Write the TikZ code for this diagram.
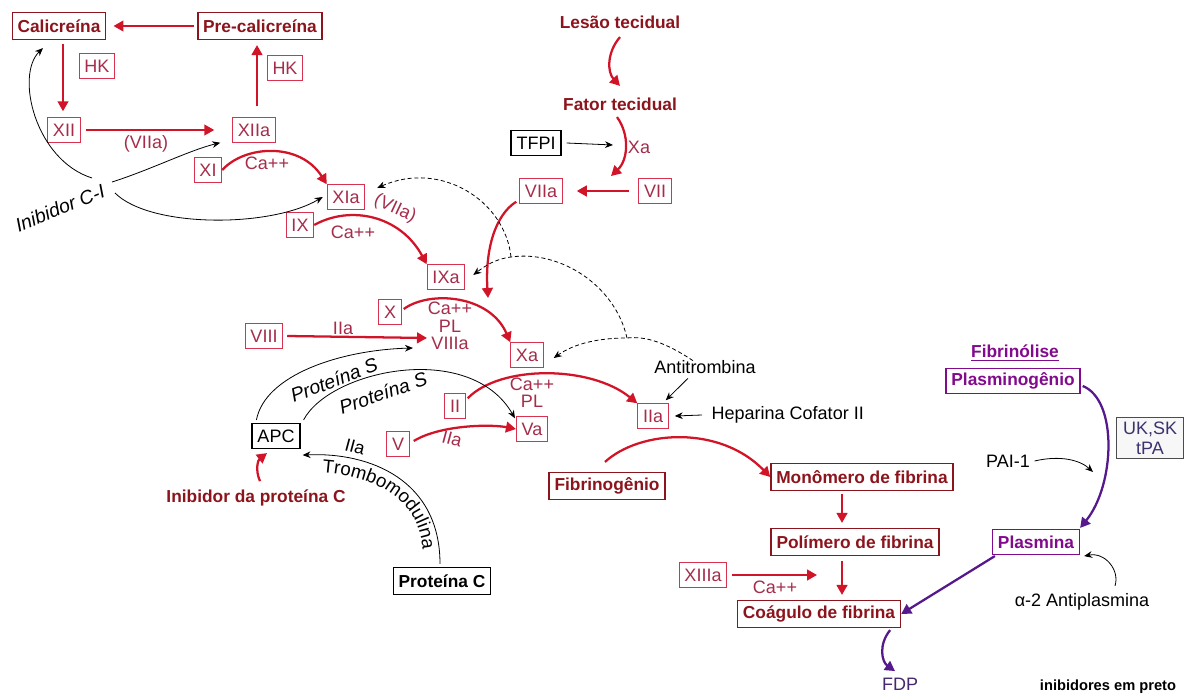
\documentclass[tikz,border=0pt]{standalone}
\usepackage{fontspec}
\setmainfont{Liberation Sans}
\usetikzlibrary{arrows.meta,calc,decorations.text}
\definecolor{clotred}{RGB}{140,20,28}
\definecolor{arrred}{RGB}{210,20,40}
\definecolor{facred}{RGB}{165,45,75}
\definecolor{facline}{RGB}{215,50,80}
\definecolor{lysis}{RGB}{130,10,140}
\definecolor{lysarr}{RGB}{85,25,140}
\definecolor{tpablue}{RGB}{60,50,110}
\definecolor{fdpc}{RGB}{70,40,110}
\newcommand\trfont{\fontsize{14}{16}\selectfont}

\begin{document}
\begin{tikzpicture}[x=0.75pt, y=-0.75pt,
    fac/.style={draw=facline, semithick, fill=white, text=facred,
      font=\fontsize{13.5}{15}\selectfont, inner xsep=4pt, inner ysep=2pt, minimum height=18.5pt},
    bigbox/.style={draw=clotred, line width=1.1pt, fill=white, text=clotred,
      font=\bfseries\fontsize{13}{15}\selectfont, inner xsep=4pt, minimum height=20pt},
    blkbox/.style={draw, line width=1.1pt, fill=white,
      font=\fontsize{13.5}{15}\selectfont, inner xsep=4pt, minimum height=18.5pt},
    redtxt/.style={text=facred, font=\fontsize{13.5}{13}\selectfont, align=center},
    blktxt/.style={font=\fontsize{13.5}{15}\selectfont},
    itxt/.style={font=\itshape\fontsize{14.5}{16}\selectfont},
    titletxt/.style={text=clotred, font=\bfseries\fontsize{13}{15}\selectfont},
    redarr/.style={draw=arrred, line width=1.7pt, -{Triangle[length=7.5pt,width=8pt]}},
    inharr/.style={semithick, -{Stealth[length=6pt,width=5pt]}},
    dasharr/.style={semithick, dash pattern=on 3pt off 2pt, -{Stealth[length=6pt,width=5pt]}},
    lysarrow/.style={draw=lysarr, line width=1.7pt, -{Triangle[length=7.5pt,width=8pt]}}]
  \path[use as bounding box, fill=white] (0,0) rectangle (1192,695);

  % Main boxes
  \foreach \n/\x/\y/\t in {cal/59/26/Calicreína, precal/260/26/Pre-calicreína,
      fibrinog/607/486/Fibrinogênio, monom/862/477/Monômero de fibrina,
      polim/855/542/Polímero de fibrina, coag/819/614/Coágulo de fibrina}
    \node[bigbox] (\n) at (\x,\y) {\t};

  % Factor boxes
  \foreach \n/\x/\y/\t in {fhka/97/66/HK, fhkb/285/68/HK, fxii/64/130/XII, fxiia/254/130/XIIa,
      fxi/208/170/XI, fxia/346/197/XIa, fix/300/225/IX, fixa/446/277/IXa,
      fx/390/312/X, fxa/527/355/Xa, fviii/264/336/VIII, fii/455/406/II,
      fiia/653/416/IIa, fv/398/444/V, fva/532/429/Va, fviia/541/191/VIIa,
      fvii/655/191/VII, fxiiia/703/575/XIIIa}
    \node[fac] (\n) at (\x,\y) {\t};

  \node[blkbox] (tfpi) at (536,143) {TFPI};
  \node[blkbox] (apc) at (276,436) {APC};
  \node[blkbox, font=\bfseries\fontsize{13}{15}\selectfont, minimum height=20pt] (protc) at (442,581) {Proteína C};
  \node[titletxt] (lesao) at (620,22) {Lesão tecidual};
  \node[titletxt] (fator) at (620,104) {Fator tecidual};
  \node[titletxt] (inibpc) at (256,498) {Inibidor da proteína C};

  % Fibrinolysis
  \node[titletxt, text=lysis] (fibrinolise) at (1015,353) {\underline{Fibrinólise}};
  \node[bigbox, draw=lysis, text=lysis, minimum height=18.5pt] (plasminog) at (1013,381) {Plasminogênio};
  \node[bigbox, draw=lysis, text=lysis, minimum height=18.5pt] (plasmina) at (1036,542) {Plasmina};
  \node[draw=gray!60!black, semithick, fill=gray!6, text=tpablue, align=center,
        font=\fontsize{13.5}{15}\selectfont, inner xsep=5pt, inner ysep=3pt] (uksk) at (1150,438) {UK,SK\\tPA};
  \node[blktxt] (pai) at (1008,461) {PAI-1};
  \node[blktxt] (antipl) at (1082,602) {α-2 Antiplasmina};
  \node[text=fdpc, font=\fontsize{13.5}{15}\selectfont] (fdp) at (900,684) {FDP};
  \node[font=\bfseries\fontsize{11}{13}\selectfont] (legenda) at (1108,687) {inibidores em preto};

  % Inhibitor labels
  \node[blktxt] (antitromb) at (705,367) {Antitrombina};
  \node[blktxt, anchor=west] (heparina) at (707,415) {Heparina Cofator II};
  \node[itxt, rotate=22] (inibci) at (60,208) {Inibidor C-I};
  \node[itxt, rotate=21] (prots1) at (334,380) {Proteína S};
  \node[itxt, rotate=19] (prots2) at (383,393) {Proteína S};
  \node[blktxt, rotate=-15] (iiaapc) at (355,447) {IIa};

  % Cofactor labels
  \node[redtxt] (lviia) at (146,144) {(VIIa)};
  \node[redtxt] (lca1) at (267,163) {Ca++};
  \node[redtxt, rotate=-25] (lviib) at (395,209) {(VIIa)};
  \node[redtxt] (lca2) at (353,232) {Ca++};
  \node[redtxt] (lca3) at (450,326) {Ca++\\PL\\VIIIa};
  \node[redtxt] (liia1) at (343,328) {IIa};
  \node[redtxt] (lca4) at (532,393) {Ca++\\PL};
  \node[redtxt, rotate=-15] (liia2) at (452,439) {IIa};
  \node[redtxt] (lxa) at (639,147) {Xa};
  \node[redtxt] (lca5) at (775,587) {Ca++};

  % Free ends
  \coordinate (ci1) at (92,178);
  \coordinate (ci2) at (112,182);
  \coordinate (ci3) at (115,193);
  \coordinate (tfpiend) at (613,145);
  \coordinate (fatorend) at (611,176);
  \coordinate (viiaend) at (488,298);
  \coordinate (viiiend) at (427,338);
  \coordinate (xiiiaend) at (817,575);
  \coordinate (paiend) at (1093,472);
  \coordinate (ps1end) at (413,348);
  \coordinate (jat) at (627,338);
  \coordinate (jix) at (511,257);

  % Contact loop
  \draw[redarr] ($(precal.west)+(-3,0)$) -- ($(cal.east)+(7,0)$);
  \draw[redarr] ($(cal.south)+(4,4)$) -- ($(fxii.north)+(-1,-6)$);
  \draw[redarr] ($(fxii.east)+(5,0)$) -- ($(fxiia.west)+(-18,0)$);
  \draw[redarr] ($(fxiia.north)+(3,-11)$) -- ($(precal.south)+(-3,5)$);

  % Cascade
  \draw[redarr] (fxi.east) .. controls (245,145) and (300,142) .. (fxia.north west);
  \draw[redarr] (fix.east) .. controls (350,205) and (400,215) .. (fixa.north west);
  \draw[redarr] ($(fx.east)+(2,-3)$) .. controls (430,290) and (490,295) .. (fxa.north west);
  \draw[redarr] ($(fii.north east)+(2,5)$) .. controls (500,365) and (590,365) .. (fiia.north west);
  \draw[redarr] ($(fv.east)+(4,-3)$) .. controls (440,425) and (490,424) .. (fva.west);
  \draw[redarr] ($(fviii.east)+(4,0)$) -- (viiiend);
  \draw[redarr] ($(fvii.west)+(-9,0)$) -- ($(fviia.east)+(14,0)$);
  \draw[redarr] ($(fviia.south west)+(-3,-2)$) .. controls (495,215) and (485,250) .. (viiaend);
  \draw[redarr] ($(lesao.south)+(0,4)$) .. controls (607,52) and (607,72) .. ($(fator.north)+(0,-7)$);
  \draw[redarr] ($(fator.south)+(-3,2)$) .. controls (630,135) and (628,160) .. (fatorend);

  % Fibrin
  \draw[redarr] ($(fibrinog.north)+(-2,-10)$) .. controls (640,430) and (720,425) .. (monom.west);
  \draw[redarr] ($(monom.south)+(-20,3)$) -- ($(polim.north)+(-13,-5)$);
  \draw[redarr] ($(polim.south)+(-13,5)$) -- ($(coag.north)+(23,-5)$);
  \draw[redarr] ($(fxiiia.east)+(5,0)$) -- (xiiiaend);
  \draw[redarr] ($(inibpc.north)+(4,-4)$) .. controls (255,470) and (258,460) .. ($(apc.south)+(-9,4)$);

  % Fibrinolysis arrows
  \draw[lysarrow] ($(coag.south east)+(-11,2)$) .. controls (878,645) and (882,662) .. ($(fdp.north)+(-5,-2)$);
  \draw[lysarrow] ($(plasminog.east)+(2,5)$) .. controls (1118,400) and (1115,485) .. ($(plasmina.north east)+(0,-1)$);
  \draw[lysarrow] ($(plasmina.south west)+(3,1)$) -- (coag.east);

  % Inhibitors
  \draw[inharr] (ci1) .. controls (35,160) and (15,75) .. ($(cal.south)+(-16,8)$);
  \draw[inharr] (ci2) .. controls (150,170) and (190,150) .. ($(fxiia.south west)+(-12,0)$);
  \draw[inharr] (ci3) .. controls (150,228) and (270,228) .. ($(fxia.west)+(-4,0)$);
  \draw[inharr] ($(tfpi.east)+(5,0)$) -- (tfpiend);
  \draw[inharr] ($(antitromb.south)+(-17,0)$) -- ($(fiia.north east)+(-3,-3)$);
  \draw[inharr] ($(heparina.west)+(-5,0)$) -- ($(fiia.east)+(6,0)$);
  \draw[inharr] ($(apc.north west)+(5,-3)$) .. controls (265,375) and (340,350) .. (ps1end);
  \draw[inharr] ($(apc.north east)+(3,-3)$) .. controls (330,370) and (470,340) .. ($(fva.north west)+(-1,2)$);
  \draw[inharr] ($(protc.north)+(-2,-3)$) .. controls (440,480) and (370,452) .. ($(apc.south east)+(2,6)$);
  \draw[inharr] (pai.east) .. controls (1060,455) and (1080,460) .. (paiend);
  \draw[inharr] ($(antipl.north)+(33,-3)$) .. controls (1120,570) and (1105,552) .. ($(plasmina.south east)+(4,1)$);
  \path[decorate, decoration={text along path, text={|\trfont|Trombomodulina}, text align=center}]
    (316,472) .. controls (366,474) and (422,494) .. (423,556);

  % Antithrombin (dashed)
  \draw[dasharr] ($(antitromb.north)+(-12,5)$) .. controls (665,342) and (645,336) .. (jat)
    .. controls (600,338) and (575,343) .. ($(fxa.east)+(10,3)$);
  \draw[dasharr] (jat) .. controls (615,285) and (560,250) .. (jix)
    .. controls (495,259) and (485,266) .. ($(fixa.east)+(8,-2)$);
  \draw[dasharr] (jix) .. controls (505,200) and (440,160) .. ($(fxia.east)+(12,-9)$);
\end{tikzpicture}
\end{document}
